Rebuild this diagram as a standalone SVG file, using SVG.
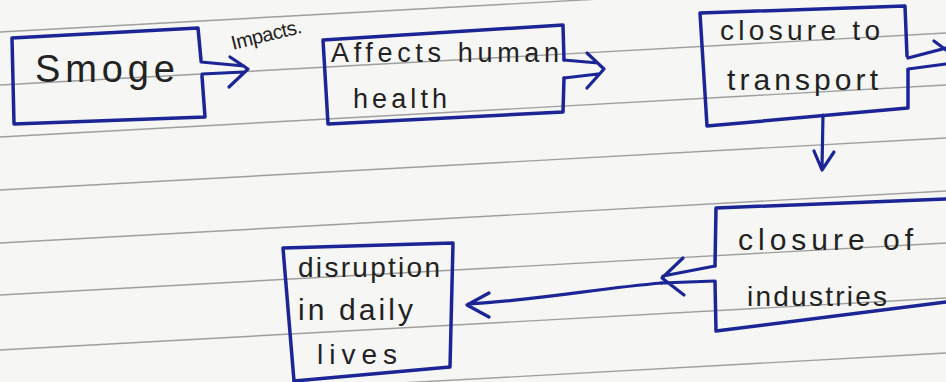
<svg xmlns="http://www.w3.org/2000/svg" width="946" height="382" viewBox="0 0 946 382">
<style>
.rule{stroke:#8f8f8f;stroke-width:1.4;fill:none;opacity:.85}
.box{stroke:#1c2596;stroke-width:3.5;fill:none;stroke-linejoin:round;stroke-linecap:round}
.con{stroke:#1c2596;stroke-width:3.2;fill:none;stroke-linejoin:round;stroke-linecap:round}
.t{font-family:"Liberation Sans",Arial,sans-serif;fill:#222;}
</style>
<rect width="946" height="382" fill="#f6f6f4"/>
<g id="paper">
<path class="rule" d="M0,32 L946,-20"/>
<path class="rule" d="M0,85 L946,33"/>
<path class="rule" d="M0,137 L946,85"/>
<path class="rule" d="M0,190 L946,138"/>
<path class="rule" d="M0,243 L946,191"/>
<path class="rule" d="M0,295 L946,243"/>
<path class="rule" d="M0,350 L946,298"/>
<path class="rule" d="M0,405 L946,353"/>
</g>
<g id="smoge">
<path class="box" d="M201,60 L198,28 L12,38 L14,124 L205,117 L202,76"/>
<text class="t" x="35" y="82" font-size="38" textLength="140">Smoge</text>
</g>
<g id="health">
<path class="box" d="M564,60 L563,25 L323,40 L328,124 L563,112 L564,78"/>
<text class="t" x="331" y="62" font-size="27" textLength="228">Affects human</text>
<text class="t" x="353" y="108" font-size="27" textLength="94">health</text>
</g>
<g id="transport">
<path class="box" d="M907,56 L905,6 L700,13 L707,126 L908,108 L908,70"/>
<text class="t" x="720" y="40" font-size="28" textLength="160">closure to</text>
<text class="t" x="727" y="90" font-size="30" textLength="151">transport</text>
</g>
<g id="industries">
<path class="box" d="M715,266 L716,208 L946,199 M946,302 L716,331 L715,282"/>
<text class="t" x="738" y="250" font-size="30" textLength="175">closure of</text>
<text class="t" x="747" y="306" font-size="28" textLength="140">industries</text>
</g>
<g id="disruption">
<path class="box" d="M283,248 L453,243 L450,367 L294,381 Z"/>
<text class="t" x="298" y="277" font-size="28" textLength="142">disruption</text>
<text class="t" x="298" y="320" font-size="30" textLength="115">in daily</text>
<text class="t" x="317" y="364" font-size="28" textLength="80">lives</text>
</g>
<g id="connectors">
<path class="con" d="M201,62 L244,66 M202,74 L244,72 M230,57 L248,69 L229,87"/>
<text class="t" x="233" y="50" font-size="20" textLength="72" transform="rotate(-14 233 50)">Impacts.</text>
<path class="con" d="M564,60 L598,63 M564,78 L598,74 M587,53 L604,69 L587,88"/>
<path class="con" d="M908,58 L946,48 M908,69 L946,64 M934,41 L946,50"/>
<path class="con" d="M823,115 L822,168 M814,151 L822,170 L834,152"/>
<path class="con" d="M715,266 L663,276 M715,281 L661,283 M683,258 L662,278 L684,295"/>
<path class="con" d="M662,283 C600,288 540,300 468,304 M489,293 L467,305 L489,317"/>
</g>
</svg>
